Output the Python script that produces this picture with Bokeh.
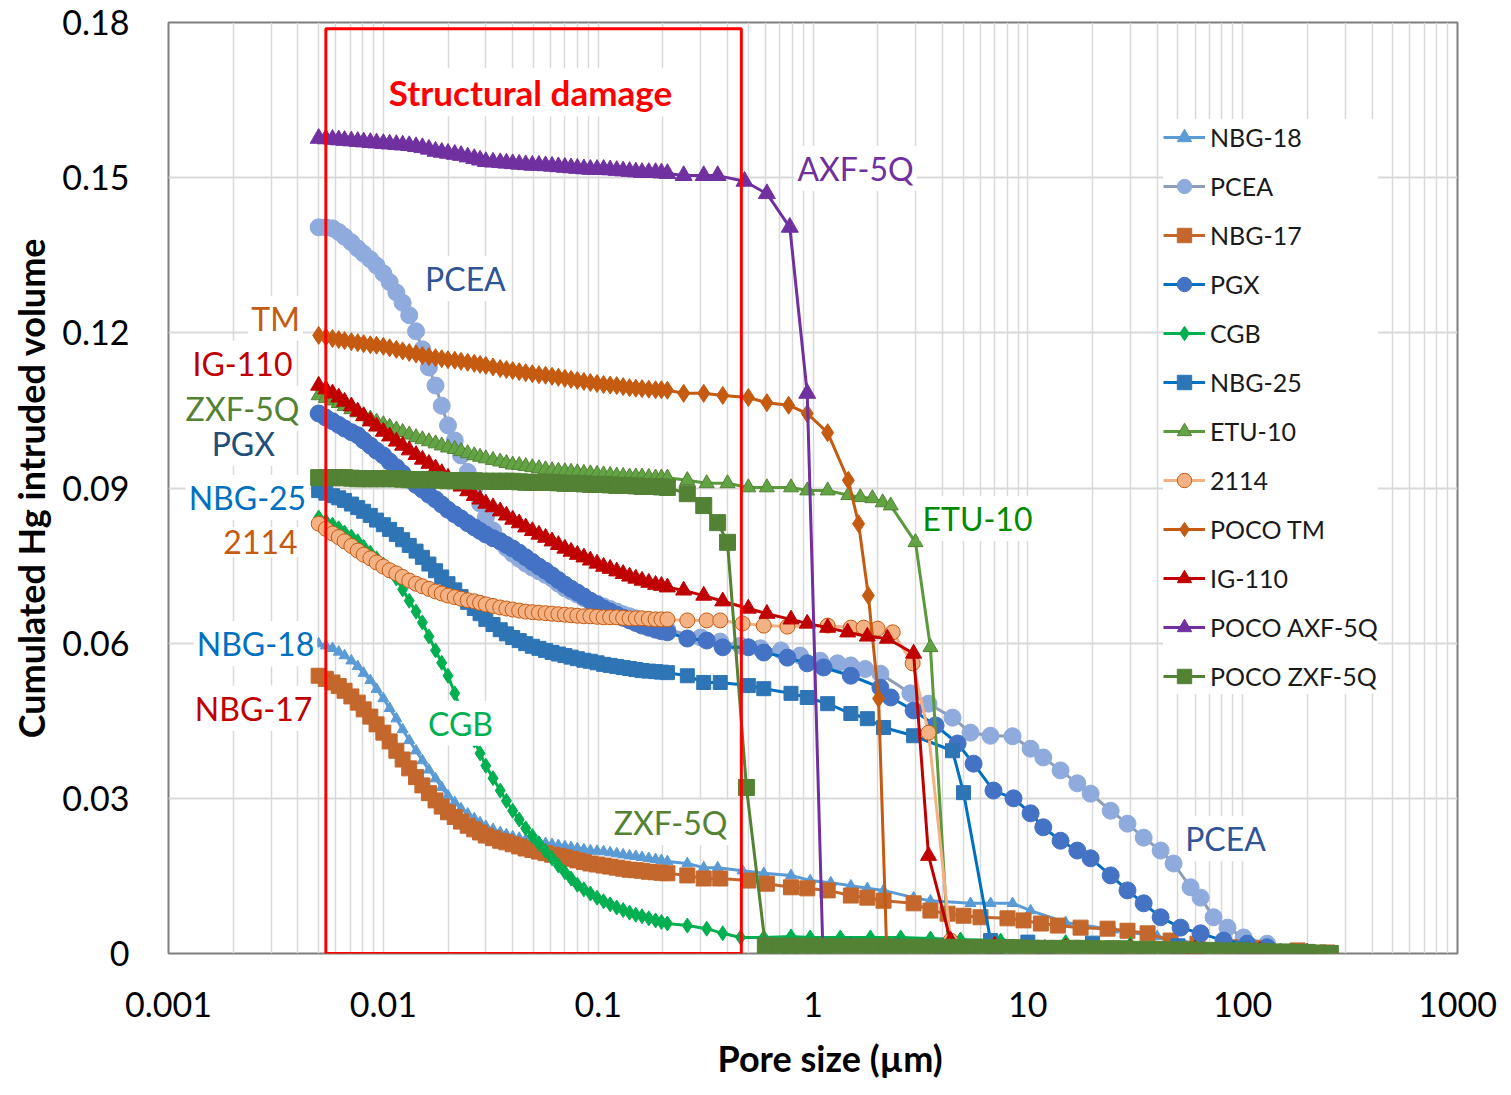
from bokeh.plotting import figure
from bokeh.models import (FixedTicker, Label, BoxAnnotation, Legend, LegendItem,
                          Range1d, ColumnDataSource, Title)
from bokeh.embed import file_html
from bokeh.resources import INLINE

# ---------------- data (pore size in µm, cumulated Hg intruded volume) ----------------
# dense high-pressure part: one shared set of pore sizes, values read per series
pore_grid = [0.005, 0.0054, 0.0058, 0.0062, 0.0066, 0.0071, 0.0076, 0.0081, 0.0087, 0.0093,
             0.010, 0.0107, 0.0115, 0.0123, 0.0132, 0.0142, 0.0152, 0.0163, 0.0175, 0.0187,
             0.020, 0.0215, 0.023, 0.0247, 0.0265, 0.0282, 0.030, 0.0324, 0.035, 0.0374,
             0.040, 0.0429, 0.046, 0.0494, 0.053, 0.0569, 0.061, 0.0653, 0.070, 0.0748,
             0.080, 0.0858, 0.092, 0.0988, 0.106, 0.1137, 0.122, 0.1307, 0.140, 0.1497,
             0.160, 0.172, 0.185, 0.197, 0.21]

nbg18_grid_y = [0.0599, 0.0595, 0.0590, 0.0583, 0.0576, 0.0566, 0.0555, 0.0542, 0.0528, 0.0511,
                0.0493, 0.0474, 0.0454, 0.0433, 0.0412, 0.0392, 0.0373, 0.0355, 0.0338, 0.0321,
                0.0305, 0.0292, 0.0280, 0.0270, 0.0261, 0.0253, 0.0246, 0.0240, 0.0234, 0.0230,
                0.0226, 0.0223, 0.0220, 0.0217, 0.0215, 0.0213, 0.0211, 0.0209, 0.0207, 0.0205,
                0.0203, 0.0201, 0.0199, 0.0198, 0.0197, 0.0195, 0.0193, 0.0191, 0.0189, 0.0188,
                0.0186, 0.0184, 0.0182, 0.0180, 0.0178]
nbg18_tail_x = [0.26, 0.31, 0.36, 0.47, 0.59, 0.79, 0.97, 1.21, 1.50, 1.79, 2.13, 2.94, 3.52,
                5.41, 6.71, 8.49, 10.3, 15, 25, 40, 60, 100, 150, 250]
nbg18_tail_y = [0.0174, 0.0166, 0.0166, 0.0160, 0.0155, 0.0151, 0.0141, 0.0137, 0.0131, 0.0126,
                0.0122, 0.0108, 0.0102, 0.0097, 0.0097, 0.0097, 0.0083, 0.0060, 0.0046, 0.0033,
                0.0020, 0.0012, 0.0007, 0.0003]

pcea_grid_y = [0.1404, 0.1404, 0.1402, 0.1395, 0.1386, 0.1375, 0.1363, 0.1353, 0.1342, 0.1330,
               0.1315, 0.1298, 0.1278, 0.1258, 0.1234, 0.1203, 0.1168, 0.1133, 0.1098, 0.1059,
               0.1021, 0.0992, 0.0963, 0.0931, 0.0899, 0.0870, 0.0843, 0.0818, 0.0797, 0.0784,
               0.0773, 0.0763, 0.0754, 0.0746, 0.0739, 0.0732, 0.0725, 0.0715, 0.0706, 0.0700,
               0.0694, 0.0687, 0.0681, 0.0676, 0.0671, 0.0666, 0.0661, 0.0656, 0.0652, 0.0648,
               0.0644, 0.0639, 0.0634, 0.0630, 0.0626]
pcea_tail_x = [0.30, 0.37, 0.46, 0.57, 0.71, 0.87, 1.08, 1.30, 1.50, 1.75, 2.06, 2.84, 3.45, 4.46,
               5.41, 6.70, 8.49, 10.3, 11.8, 14.2, 17.0, 19.6, 24.3, 29.1, 34.6, 41.5, 47.7,
               57.2, 63.7, 73.2, 85.0, 101, 130]
pcea_tail_y = [0.0611, 0.0603, 0.0595, 0.0590, 0.0586, 0.0576, 0.0566, 0.0561, 0.0557, 0.0550,
               0.0541, 0.0503, 0.0483, 0.0456, 0.0427, 0.0421, 0.0420, 0.0396, 0.0379, 0.0354,
               0.0329, 0.0309, 0.0276, 0.0251, 0.0224, 0.0199, 0.0174, 0.0128, 0.0108, 0.0070,
               0.0050, 0.0031, 0.0019]

nbg17_grid_y = [0.0537, 0.0531, 0.0524, 0.0517, 0.0508, 0.0497, 0.0485, 0.0472, 0.0458, 0.0443,
                0.0427, 0.0410, 0.0392, 0.0375, 0.0358, 0.0341, 0.0325, 0.0310, 0.0296, 0.0284,
                0.0273, 0.0264, 0.0255, 0.0247, 0.0240, 0.0234, 0.0228, 0.0223, 0.0218, 0.0215,
                0.0211, 0.0207, 0.0203, 0.0200, 0.0197, 0.0194, 0.0191, 0.0189, 0.0186, 0.0183,
                0.0180, 0.0177, 0.0174, 0.0172, 0.0170, 0.0168, 0.0166, 0.0164, 0.0162, 0.0161,
                0.0160, 0.0158, 0.0157, 0.0156, 0.0155]
nbg17_tail_x = [0.26, 0.31, 0.37, 0.50, 0.61, 0.79, 0.94, 1.17, 1.50, 1.79, 2.13, 2.94, 3.52,
                4.23, 5.02, 6.02, 8.04, 9.55, 11.5, 13.8, 17.6, 23.5, 29.1, 36.1, 46.2, 61.6,
                87.8, 125, 180, 248]
nbg17_tail_y = [0.0151, 0.0145, 0.0145, 0.0141, 0.0135, 0.0128, 0.0126, 0.0122, 0.0112, 0.0108,
                0.0102, 0.0097, 0.0083, 0.0077, 0.0073, 0.0070, 0.0068, 0.0064, 0.0058, 0.0054,
                0.0050, 0.0048, 0.0044, 0.0039, 0.0025, 0.0019, 0.0012, 0.0010, 0.0006, 0.0002]

pgx_grid_y = [0.1044, 0.1036, 0.1029, 0.1022, 0.1015, 0.1008, 0.1002, 0.0992, 0.0982, 0.0972,
              0.0963, 0.0951, 0.0940, 0.0928, 0.0916, 0.0906, 0.0897, 0.0887, 0.0878, 0.0868,
              0.0858, 0.0849, 0.0841, 0.0832, 0.0824, 0.0817, 0.0810, 0.0803, 0.0797, 0.0790,
              0.0783, 0.0775, 0.0766, 0.0757, 0.0748, 0.0740, 0.0731, 0.0722, 0.0713, 0.0705,
              0.0698, 0.0690, 0.0682, 0.0675, 0.0667, 0.0661, 0.0655, 0.0649, 0.0644, 0.0639,
              0.0634, 0.0630, 0.0626, 0.0623, 0.0621]
pgx_tail_x = [0.26, 0.32, 0.38, 0.50, 0.59, 0.76, 0.94, 1.12, 1.50, 2.06, 2.30, 2.94, 3.72, 4.71,
              5.59, 6.92, 8.58, 10.3, 11.8, 14.2, 17.0, 19.6, 24.3, 29.1, 34.6, 41.5, 51.4,
              63.7, 81.5, 105, 130]
pgx_tail_y = [0.0609, 0.0605, 0.0592, 0.0592, 0.0582, 0.0572, 0.0561, 0.0553, 0.0537, 0.0514,
              0.0495, 0.0470, 0.0441, 0.0406, 0.0367, 0.0315, 0.0300, 0.0271, 0.0244, 0.0218,
              0.0199, 0.0184, 0.0151, 0.0122, 0.0097, 0.0070, 0.0050, 0.0039, 0.0025, 0.0019,
              0.0012]

cgb_grid_y = [0.0843, 0.0836, 0.0829, 0.0822, 0.0814, 0.0806, 0.0797, 0.0786, 0.0775, 0.0764,
              0.0752, 0.0740, 0.0725, 0.0704, 0.0682, 0.0661, 0.0640, 0.0613, 0.0586, 0.0562,
              0.0537, 0.0503, 0.0470, 0.0441, 0.0412, 0.0387, 0.0363, 0.0339, 0.0315, 0.0295,
              0.0276, 0.0259, 0.0242, 0.0227, 0.0213, 0.0198, 0.0184, 0.0170, 0.0157, 0.0145,
              0.0133, 0.0124, 0.0116, 0.0108, 0.0101, 0.0095, 0.0089, 0.0084, 0.0079, 0.0075,
              0.0072, 0.0068, 0.0064, 0.0061, 0.0058]
cgb_tail_x = [0.26, 0.32, 0.38, 0.46, 0.59, 0.79, 0.97, 1.34, 1.85, 2.56, 3.52, 4.86, 7.47,
              15, 30, 60, 120, 200]
cgb_tail_y = [0.0054, 0.0048, 0.0039, 0.0031, 0.0031, 0.0033, 0.0031, 0.0031, 0.0031, 0.0031,
              0.0029, 0.0027, 0.0025, 0.0022, 0.0018, 0.0012, 0.0006, 0.0002]

nbg25_grid_y = [0.0895, 0.0890, 0.0885, 0.0881, 0.0876, 0.0869, 0.0862, 0.0855, 0.0847, 0.0838,
                0.0829, 0.0820, 0.0810, 0.0800, 0.0789, 0.0778, 0.0766, 0.0753, 0.0740, 0.0728,
                0.0715, 0.0703, 0.0690, 0.0679, 0.0667, 0.0657, 0.0646, 0.0636, 0.0626, 0.0618,
                0.0611, 0.0605, 0.0599, 0.0594, 0.0590, 0.0586, 0.0582, 0.0579, 0.0576, 0.0573,
                0.0570, 0.0567, 0.0565, 0.0562, 0.0559, 0.0557, 0.0555, 0.0553, 0.0551, 0.0549,
                0.0547, 0.0546, 0.0545, 0.0544, 0.0543]
nbg25_tail_x = [0.26, 0.31, 0.37, 0.50, 0.59, 0.79, 0.94, 1.17, 1.50, 1.79, 2.13, 2.94, 4.46,
                5.02, 6.71, 10, 20, 50, 100, 200]
nbg25_tail_y = [0.0537, 0.0524, 0.0524, 0.0518, 0.0512, 0.0503, 0.0495, 0.0483, 0.0464, 0.0454,
                0.0437, 0.0421, 0.0392, 0.0311, 0.0025, 0.0022, 0.0020, 0.0015, 0.0010, 0.0004]

etu10_grid_y = [0.1079, 0.1074, 0.1069, 0.1064, 0.1058, 0.1052, 0.1046, 0.1040, 0.1034, 0.1028,
                0.1023, 0.1018, 0.1013, 0.1008, 0.1003, 0.0998, 0.0994, 0.0990, 0.0986, 0.0982,
                0.0978, 0.0975, 0.0971, 0.0967, 0.0963, 0.0960, 0.0957, 0.0954, 0.0951, 0.0948,
                0.0945, 0.0944, 0.0942, 0.0940, 0.0938, 0.0936, 0.0934, 0.0933, 0.0932, 0.0931,
                0.0930, 0.0929, 0.0928, 0.0927, 0.0926, 0.0925, 0.0924, 0.0923, 0.0922, 0.0922,
                0.0922, 0.0921, 0.0920, 0.0920, 0.0920]
etu10_tail_x = [0.26, 0.32, 0.40, 0.50, 0.61, 0.79, 0.94, 1.17, 1.46, 1.66, 1.89, 2.11, 2.30,
                3.00, 3.52, 4.27, 7, 15, 30, 60, 120, 200]
etu10_tail_y = [0.0915, 0.0909, 0.0909, 0.0901, 0.0901, 0.0901, 0.0895, 0.0895, 0.0886, 0.0882,
                0.0880, 0.0872, 0.0866, 0.0795, 0.0592, 0.0015, 0.0013, 0.0011, 0.0009, 0.0007,
                0.0004, 0.0002]

s2114_grid_y = [0.0831, 0.0821, 0.0812, 0.0805, 0.0797, 0.0788, 0.0779, 0.0771, 0.0764, 0.0756,
                0.0748, 0.0741, 0.0735, 0.0728, 0.0721, 0.0715, 0.0710, 0.0705, 0.0700, 0.0696,
                0.0692, 0.0689, 0.0686, 0.0683, 0.0681, 0.0678, 0.0675, 0.0672, 0.0669, 0.0667,
                0.0665, 0.0663, 0.0661, 0.0660, 0.0659, 0.0658, 0.0657, 0.0656, 0.0655, 0.0654,
                0.0653, 0.0652, 0.0652, 0.0651, 0.0650, 0.0650, 0.0650, 0.0649, 0.0648, 0.0648,
                0.0648, 0.0647, 0.0646, 0.0646, 0.0646]
s2114_tail_x = [0.26, 0.32, 0.37, 0.47, 0.59, 0.76, 1.17, 1.50, 1.72, 2.00, 2.35, 2.91, 3.45,
                4.37, 7, 15, 30, 60, 120, 200]
s2114_tail_y = [0.0644, 0.0644, 0.0644, 0.0638, 0.0634, 0.0632, 0.0634, 0.0630, 0.0630, 0.0628,
                0.0621, 0.0561, 0.0427, 0.0025, 0.0014, 0.0012, 0.0010, 0.0007, 0.0004, 0.0002]

tm_grid_y = [0.1195, 0.1192, 0.1189, 0.1187, 0.1185, 0.1183, 0.1181, 0.1179, 0.1177, 0.1176,
             0.1174, 0.1171, 0.1168, 0.1165, 0.1162, 0.1159, 0.1156, 0.1154, 0.1152, 0.1150,
             0.1148, 0.1147, 0.1145, 0.1143, 0.1141, 0.1139, 0.1137, 0.1134, 0.1131, 0.1129,
             0.1127, 0.1125, 0.1123, 0.1121, 0.1119, 0.1118, 0.1116, 0.1114, 0.1112, 0.1110,
             0.1108, 0.1106, 0.1104, 0.1102, 0.1100, 0.1099, 0.1098, 0.1096, 0.1094, 0.1093,
             0.1092, 0.1091, 0.1090, 0.1090, 0.1089]
tm_tail_x = [0.25, 0.31, 0.38, 0.50, 0.61, 0.77, 0.94, 1.17, 1.46, 1.63, 1.81, 2.02, 2.20,
             3, 5, 10, 20, 50, 100]
tm_tail_y = [0.1083, 0.1083, 0.1079, 0.1075, 0.1065, 0.1060, 0.1044, 0.1007, 0.0915, 0.0831,
             0.0692, 0.0493, 0.0015, 0.0012, 0.0010, 0.0008, 0.0006, 0.0004, 0.0002]

ig110_grid_y = [0.1098, 0.1091, 0.1083, 0.1075, 0.1067, 0.1058, 0.1048, 0.1039, 0.1029, 0.1019,
                0.1009, 0.1000, 0.0990, 0.0982, 0.0973, 0.0964, 0.0955, 0.0947, 0.0938, 0.0929,
                0.0920, 0.0912, 0.0903, 0.0894, 0.0885, 0.0878, 0.0870, 0.0863, 0.0855, 0.0847,
                0.0839, 0.0832, 0.0824, 0.0817, 0.0810, 0.0804, 0.0797, 0.0790, 0.0783, 0.0777,
                0.0771, 0.0766, 0.0760, 0.0754, 0.0748, 0.0744, 0.0739, 0.0734, 0.0729, 0.0725,
                0.0721, 0.0717, 0.0713, 0.0711, 0.0708]
ig110_tail_x = [0.25, 0.31, 0.38, 0.50, 0.61, 0.79, 0.94, 1.17, 1.45, 1.79, 2.22, 2.94, 3.45,
                4.37, 7, 15, 30, 60, 120, 200]
ig110_tail_y = [0.0702, 0.0692, 0.0681, 0.0667, 0.0657, 0.0646, 0.0638, 0.0630, 0.0621, 0.0613,
                0.0609, 0.0580, 0.0189, 0.0025, 0.0015, 0.0012, 0.0010, 0.0008, 0.0005, 0.0002]

axf_grid_y = [0.1576, 0.1575, 0.1574, 0.1573, 0.1572, 0.1571, 0.1570, 0.1569, 0.1568, 0.1567,
              0.1566, 0.1565, 0.1564, 0.1563, 0.1562, 0.1560, 0.1558, 0.1555, 0.1551, 0.1549,
              0.1547, 0.1545, 0.1543, 0.1540, 0.1537, 0.1534, 0.1531, 0.1530, 0.1529, 0.1528,
              0.1527, 0.1526, 0.1525, 0.1524, 0.1524, 0.1523, 0.1522, 0.1521, 0.1520, 0.1519,
              0.1518, 0.1517, 0.1516, 0.1516, 0.1516, 0.1515, 0.1514, 0.1513, 0.1512, 0.1511,
              0.1510, 0.1510, 0.1510, 0.1509, 0.1508]
axf_tail_x = [0.25, 0.31, 0.36, 0.48, 0.61, 0.78, 0.94, 1.11, 1.5, 2.5, 4.0, 7.0, 12, 25, 50,
              100, 200]
axf_tail_y = [0.1504, 0.1504, 0.1504, 0.1493, 0.1469, 0.1404, 0.1083, 0.0015, 0.0012, 0.0011,
              0.0010, 0.0009, 0.0008, 0.0007, 0.0005, 0.0003, 0.0001]

zxf_grid_y = [0.0920, 0.0920, 0.0920, 0.0920, 0.0920, 0.0919, 0.0918, 0.0918, 0.0918, 0.0918,
              0.0918, 0.0918, 0.0918, 0.0917, 0.0916, 0.0916, 0.0916, 0.0916, 0.0916, 0.0915,
              0.0914, 0.0914, 0.0914, 0.0914, 0.0914, 0.0913, 0.0913, 0.0913, 0.0913, 0.0913,
              0.0913, 0.0912, 0.0911, 0.0911, 0.0911, 0.0911, 0.0911, 0.0910, 0.0909, 0.0909,
              0.0909, 0.0908, 0.0907, 0.0907, 0.0907, 0.0906, 0.0905, 0.0905, 0.0905, 0.0904,
              0.0903, 0.0903, 0.0903, 0.0902, 0.0901]
zxf_tail_x = [0.26, 0.31, 0.36, 0.40, 0.49, 0.60,
              0.70, 0.78, 0.88, 1.0, 1.15, 1.3, 1.5, 1.7, 1.95, 2.2,
              2.5, 2.8, 3.2, 3.5, 4.0, 4.5, 5.0, 5.5, 6.2, 7,
              8, 9, 10.5, 12, 14, 16, 18, 20, 22.5, 25,
              28, 32, 36, 40, 45, 50, 56, 63, 71, 80,
              90, 100, 112, 125, 140, 160, 180, 200, 225, 256]
zxf_tail_y = [0.0889, 0.0866, 0.0833, 0.0795, 0.0321, 0.0015,
              0.0014, 0.0014, 0.0014, 0.0014, 0.0014, 0.0013, 0.0013, 0.0013, 0.0013, 0.0013,
              0.0012, 0.0012, 0.0012, 0.0012, 0.0012, 0.0012, 0.0011, 0.0011, 0.0011, 0.0011,
              0.0011, 0.0011, 0.0010, 0.0010, 0.0010, 0.0010, 0.0010, 0.0009, 0.0009, 0.0009,
              0.0009, 0.0008, 0.0008, 0.0008, 0.0007, 0.0007, 0.0007, 0.0006, 0.0006, 0.0005,
              0.0005, 0.0005, 0.0004, 0.0004, 0.0003, 0.0003, 0.0002, 0.0002, 0.0001, 0.0]

# axis ticks
x_ticks = [0.001, 0.01, 0.1, 1, 10, 100, 1000]
x_tick_labels = ["0.001", "0.01", "0.1", "1", "10", "100", "1000"]
y_ticks = [0, 0.03, 0.06, 0.09, 0.12, 0.15, 0.18]
y_tick_labels = ["0", "0.03", "0.06", "0.09", "0.12", "0.15", "0.18"]

# axis titles
x_title = "Pore size (µm)"
y_title = "Cumulated Hg intruded volume"

# highlighted zone
damage_left, damage_right, damage_top = 0.0054, 0.464, 0.1788

# in-plot annotations
ann_text = ["Structural damage", "AXF-5Q", "PCEA", "TM", "IG-110", "ZXF-5Q", "PGX", "NBG-25",
            "2114", "NBG-18", "NBG-17", "CGB", "ZXF-5Q", "ETU-10", "PCEA"]
ann_x = [0.0484, 1.577, 0.0241, 0.00315, 0.00221, 0.00221, 0.00223, 0.00233,
         0.00268, 0.00254, 0.00249, 0.02287, 0.2171, 5.83, 83.2]
ann_y = [0.1665, 0.1518, 0.1305, 0.1228, 0.1141, 0.1054, 0.0986, 0.0882,
         0.0795, 0.0599, 0.0474, 0.0445, 0.0253, 0.0841, 0.0222]
ann_color = ["#FF0000", "#7030A0", "#2F5597", "#C55A11", "#C00000", "#548235", "#1F4E79",
             "#0070C0", "#C55A11", "#0070C0", "#C00000", "#00B050", "#548235", "#008A00",
             "#2F5597"]

FONT = "Lato"

# ---------------- figure ----------------
p = figure(width=1511, height=1095, x_axis_type="log",
           x_range=Range1d(0.001, 1000), y_range=Range1d(0, 0.18),
           output_backend="svg", toolbar_location=None,
           min_border_left=168, min_border_right=54, min_border_top=22, min_border_bottom=142)
p.background_fill_color = "white"
p.border_fill_color = "white"
p.outline_line_color = "#7F7F7F"
p.outline_line_width = 2

minor = [m * 10.0 ** e for e in range(-3, 3) for m in range(2, 10)]
p.xaxis.ticker = FixedTicker(ticks=x_ticks, minor_ticks=minor)
p.xaxis.major_label_overrides = dict(zip(x_ticks, x_tick_labels))
p.yaxis.ticker = FixedTicker(ticks=y_ticks)
p.yaxis.major_label_overrides = dict(zip(y_ticks, y_tick_labels))

for ax in (p.xaxis, p.yaxis):
    ax.major_tick_line_color = None
    ax.minor_tick_line_color = None
    ax.axis_line_color = None
    ax.major_label_text_font = FONT
    ax.major_label_text_font_size = "34px"
    ax.major_label_text_color = "black"
    ax.axis_label_text_font = FONT
    ax.axis_label_text_font_size = "36px"
    ax.axis_label_text_font_style = "bold"
    ax.axis_label_text_color = "black"

p.yaxis.axis_label = y_title
p.xaxis.major_label_standoff = 32
p.yaxis.major_label_standoff = 33
p.yaxis.axis_label_standoff = 6

# x-axis title as a "below" title, shifted to sit where the original has it
p.add_layout(Title(text=x_title, align="left", offset=549, standoff=28,
                   vertical_align="bottom",
                   text_font=FONT, text_font_size="36px", text_font_style="bold",
                   text_color="black"), "below")

p.xgrid.grid_line_color = "#D9D9D9"
p.xgrid.grid_line_width = 1.5
p.xgrid.minor_grid_line_color = "#D9D9D9"
p.xgrid.minor_grid_line_width = 1.5
p.ygrid.grid_line_color = "#D9D9D9"
p.ygrid.grid_line_width = 2

series = [
    ("NBG-18", nbg18_grid_y, nbg18_tail_x, nbg18_tail_y, "triangle", 11, "#5B9BD5", "#5B9BD5", "#5B9BD5"),
    ("PCEA", pcea_grid_y, pcea_tail_x, pcea_tail_y, "circle", 17, "#8FAADC", "#8FAADC", "#8C9DB5"),
    ("NBG-17", nbg17_grid_y, nbg17_tail_x, nbg17_tail_y, "square", 15, "#C4672C", "#C4672C", "#C4672C"),
    ("PGX", pgx_grid_y, pgx_tail_x, pgx_tail_y, "circle", 17, "#4472C4", "#4472C4", "#0070C0"),
    ("CGB", cgb_grid_y, cgb_tail_x, cgb_tail_y, "diamond", 15, "#00B050", "#00B050", "#00B050"),
    ("NBG-25", nbg25_grid_y, nbg25_tail_x, nbg25_tail_y, "square", 14, "#2E75B6", "#2E75B6", "#0070C0"),
    ("ETU-10", etu10_grid_y, etu10_tail_x, etu10_tail_y, "triangle", 15, "#62A444", "#548235", "#5B9A3C"),
    ("2114", s2114_grid_y, s2114_tail_x, s2114_tail_y, "circle", 15, "#F4B183", "#C55A11", "#F4B183"),
    ("POCO TM", tm_grid_y, tm_tail_x, tm_tail_y, "diamond", 18, "#C55A11", "#C55A11", "#C55A11"),
    ("IG-110", ig110_grid_y, ig110_tail_x, ig110_tail_y, "triangle", 16, "#C00000", "#C00000", "#C00000"),
    ("POCO AXF-5Q", axf_grid_y, axf_tail_x, axf_tail_y, "triangle", 17, "#7030A0", "#7030A0", "#7030A0"),
    ("POCO ZXF-5Q", zxf_grid_y, zxf_tail_x, zxf_tail_y, "square", 16, "#548235", "#548235", "#548235"),
]

items = []
for name, gy, tx, ty, marker, size, fill, edge, lcol in series:
    src = ColumnDataSource(dict(x=pore_grid + tx, y=gy + ty))
    lr = p.line("x", "y", source=src, line_color=lcol, line_width=3)
    sr = p.scatter("x", "y", source=src, marker=marker, size=size,
                   fill_color=fill, line_color=edge, line_width=1)
    items.append(LegendItem(label=name, renderers=[lr, sr]))

legend = Legend(items=items, location=(995, 259), orientation="vertical",
                glyph_width=42, glyph_height=36, label_height=36, spacing=13,
                padding=10, margin=0, label_standoff=5,
                label_text_font=FONT, label_text_font_size="25px", label_text_color="#1A1A1A",
                background_fill_color="white", background_fill_alpha=1.0,
                border_line_color=None)
p.add_layout(legend, "center")

p.add_layout(BoxAnnotation(left=damage_left, right=damage_right, bottom=0, top=damage_top,
                           fill_alpha=0, line_color="#FF0000", line_alpha=1.0, line_width=3))

for i, (t, x, y, c) in enumerate(zip(ann_text, ann_x, ann_y, ann_color)):
    lab = Label(x=x, y=y, text=t, text_color=c, text_font=FONT,
                text_font_size="35px" if i == 0 else "32px",
                text_font_style="bold" if i == 0 else "normal",
                text_align="center", text_baseline="middle",
                background_fill_color="white", padding=3)
    p.add_layout(lab)

open("out.html", "w").write(file_html(p, INLINE))
